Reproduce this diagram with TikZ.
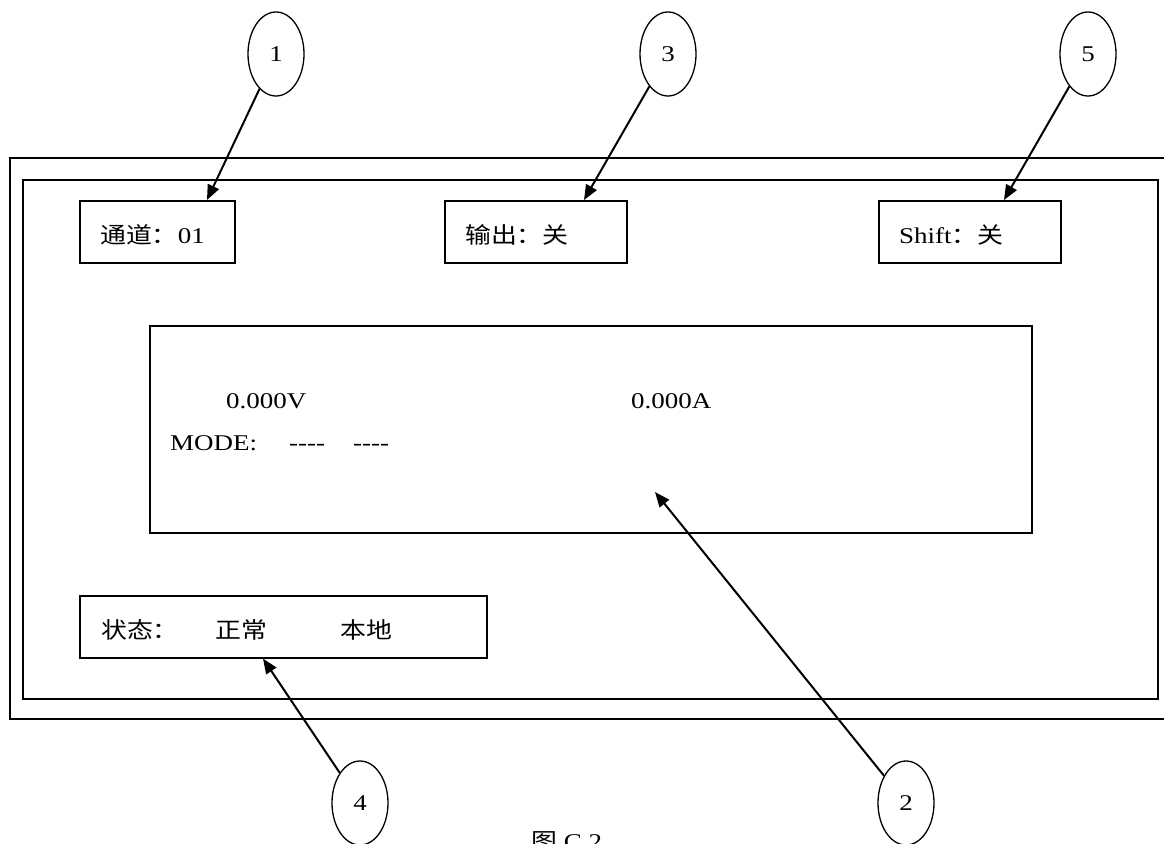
\documentclass[tikz,border=0pt]{standalone}
\usepackage{fontspec}
\setmainfont{Liberation Serif}[FakeStretch=1.2]
\newfontfamily\cjk{Noto Sans CJK SC}[FakeStretch=1.15]
\usetikzlibrary{shapes.geometric,arrows.meta,calc}
\newcommand{\hy}{\mbox{-}}
\begin{document}
\begin{tikzpicture}[x=1pt,y=-1pt,
  every node/.style={font=\fontsize{22.5}{27}\selectfont},
  frame/.style={draw,line width=1.6pt},
  box/.style={draw,line width=1.6pt,rectangle,inner sep=0,anchor=north west},
  txt/.style={anchor=base west,inner sep=0},
  num/.style={draw,ellipse,line width=1.3pt,minimum width=56,minimum height=84,inner sep=0},
  arr/.style={line width=2pt,-{Triangle[length=15pt,width=12pt]}}]
\useasboundingbox (0,0) rectangle (1164,843);
\clip (0,0) rectangle (1164,843);
% frames
\draw[frame] (10,158) rectangle (1180,719);
\draw[frame] (23,180) rectangle (1158,699);
% boxes
\node[box,minimum width=155,minimum height=62] (b1) at (79,200) {};
\node[box,minimum width=182,minimum height=62] (b3) at (444,200) {};
\node[box,minimum width=182,minimum height=62] (b5) at (878,200) {};
\node[box,minimum width=882,minimum height=207] (disp) at (149,325) {};
\node[box,minimum width=407,minimum height=62] (b4) at (79,595) {};
% texts
\node[txt] (t1) at (100,243) {{\cjk 通道：}01};
\node[txt] (t3) at (465,243) {\cjk 输出：关};
\node[txt] (t5) at (899,243) {Shift{\cjk ：关}};
\node[txt] (tv) at (226,408) {0.000V};
\node[txt] (ta) at (631,408) {0.000A};
\node[txt] (tm) at (170,450) {MODE:};
\node[txt] (tm1) at (289,450) {\hy\hy\hy\hy};
\node[txt] (tm2) at (353,450) {\hy\hy\hy\hy};
\node[txt] (s1) at (101,638) {\cjk 状态：};
\node[txt] (s2) at (215,638) {\cjk 正常};
\node[txt] (s3) at (340,638) {\cjk 本地};
% numbered ellipses
\node[num] (c1) at (276,54) {1};
\node[num] (c3) at (668,54) {3};
\node[num] (c5) at (1088,54) {5};
\node[num] (c4) at (360,803) {4};
\node[num] (c2) at (906,803) {2};
% arrow targets
\coordinate (p1) at ($(b1.north west)+(128,0)$);
\coordinate (p3) at ($(b3.north west)+(140,0)$);
\coordinate (p5) at ($(b5.north west)+(126,0)$);
\coordinate (p4) at ($(b4.south west)+(184,0)$);
\coordinate (p2) at (655,492);
\draw[arr] (c1) -- (p1);
\draw[arr] (c3) -- (p3);
\draw[arr] (c5) -- (p5);
\draw[arr] (c4) -- (p4);
\draw[arr] (c2) -- (p2);
% caption
\node[txt] (cap) at (531,849) {{\cjk 图} C.2};
\end{tikzpicture}
\end{document}
